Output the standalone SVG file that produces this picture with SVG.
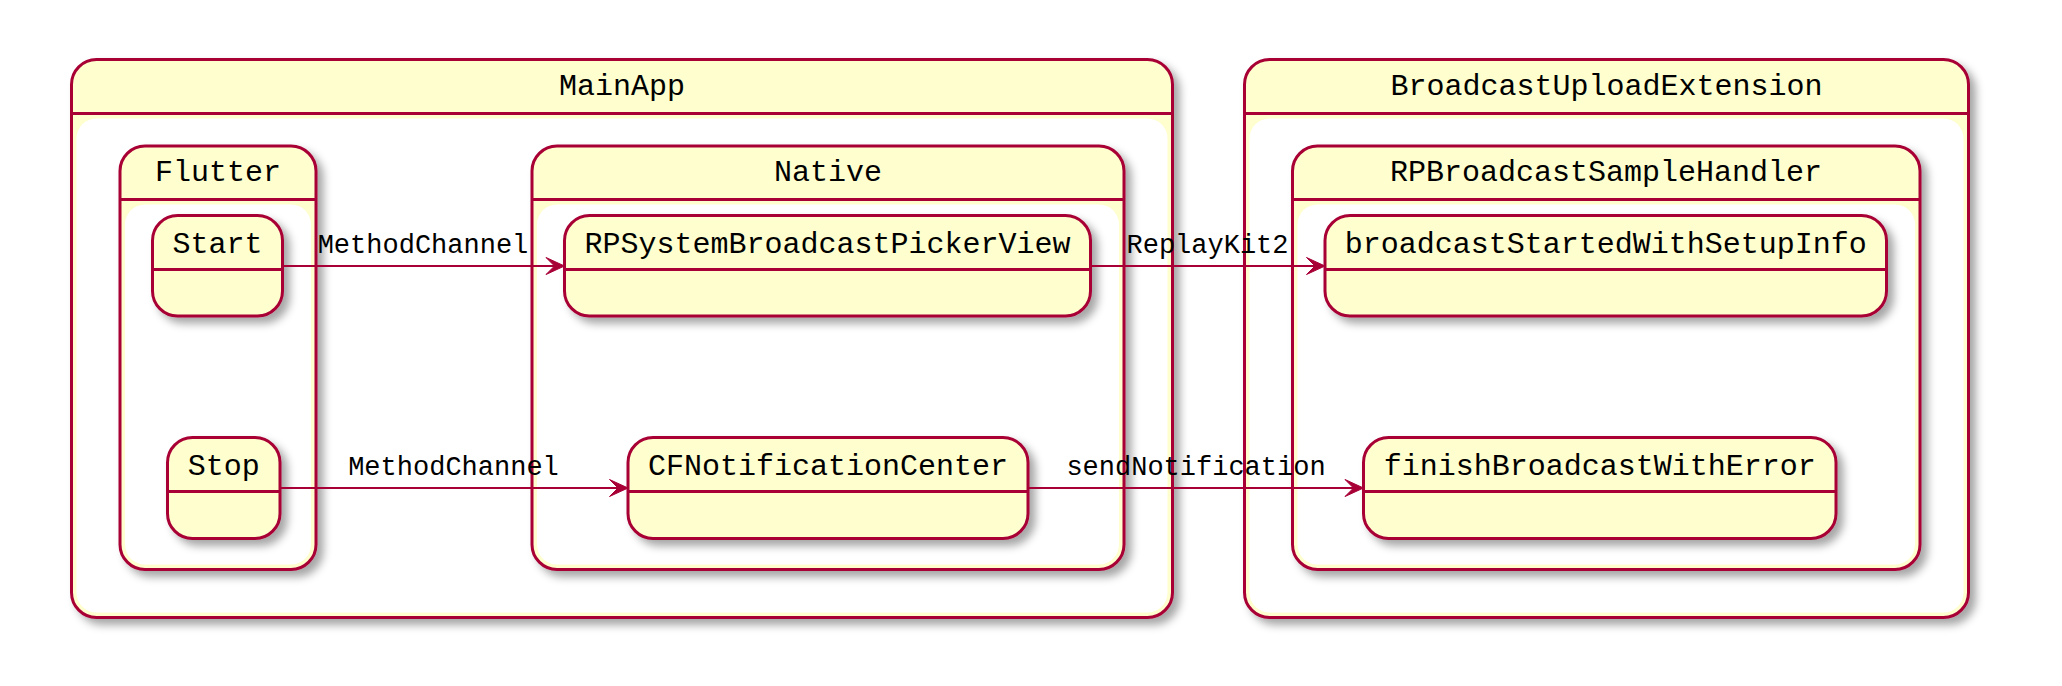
<svg xmlns="http://www.w3.org/2000/svg" width="2062" height="686" viewBox="0 0 2062 686">
  <defs>
    <filter id="sh" x="-10%" y="-10%" width="130%" height="130%">
      <feDropShadow dx="6" dy="6" stdDeviation="4" flood-color="#000000" flood-opacity="0.35"/>
    </filter>
  </defs>
  <style>
    .box{fill:#FEFECE;stroke:#A80036;stroke-width:3;filter:url(#sh)}
    .inner{fill:#FFFFFF;stroke:none}
    .div{stroke:#A80036;stroke-width:3;fill:none}
    .name{font-family:"Liberation Mono","DejaVu Sans Mono",monospace;font-size:30px;fill:#000;text-anchor:middle}
    .lbl{font-family:"Liberation Mono","DejaVu Sans Mono",monospace;font-size:27px;fill:#000;text-anchor:middle}
    .edge{stroke:#A80036;stroke-width:2;fill:none}
    .head{fill:#A80036;stroke:#A80036;stroke-width:1}
  </style>
  <rect width="2062" height="686" fill="#FFFFFF"/>

  <g id="MainApp">
    <rect class="box" x="71.5" y="59.5" width="1101" height="558" rx="25"/>
    <line class="div" x1="71.5" y1="113.5" x2="1172.5" y2="113.5"/>
    <rect class="inner" x="76.5" y="118.5" width="1091" height="494" rx="20"/>
    <text class="name" x="622" y="94.5">MainApp</text>
  </g>

  <g id="BroadcastUploadExtension">
    <rect class="box" x="1244.5" y="59.5" width="724" height="558" rx="25"/>
    <line class="div" x1="1244.5" y1="113.5" x2="1968.5" y2="113.5"/>
    <rect class="inner" x="1249.5" y="118.5" width="714" height="494" rx="20"/>
    <text class="name" x="1606.5" y="94.5">BroadcastUploadExtension</text>
  </g>

  <g id="Flutter">
    <rect class="box" x="120" y="146" width="196" height="423.5" rx="25"/>
    <line class="div" x1="120" y1="199.5" x2="316" y2="199.5"/>
    <rect class="inner" x="125" y="204.5" width="186" height="360" rx="20"/>
    <text class="name" x="218" y="181">Flutter</text>
  </g>

  <g id="Native">
    <rect class="box" x="532" y="146" width="592" height="423.5" rx="25"/>
    <line class="div" x1="532" y1="199.5" x2="1124" y2="199.5"/>
    <rect class="inner" x="537" y="204.5" width="582" height="360" rx="20"/>
    <text class="name" x="828" y="181">Native</text>
  </g>

  <g id="RPBroadcastSampleHandler">
    <rect class="box" x="1292.5" y="146" width="627.5" height="423.5" rx="25"/>
    <line class="div" x1="1292.5" y1="199.5" x2="1920" y2="199.5"/>
    <rect class="inner" x="1297.5" y="204.5" width="617.5" height="360" rx="20"/>
    <text class="name" x="1606" y="181">RPBroadcastSampleHandler</text>
  </g>

  <g id="Start">
    <rect class="box" x="152.5" y="215.5" width="130" height="100.5" rx="25"/>
    <line class="div" x1="152.5" y1="269.5" x2="282.5" y2="269.5"/>
    <text class="name" x="217.5" y="252.5">Start</text>
  </g>

  <g id="Stop">
    <rect class="box" x="167.5" y="437.5" width="112.5" height="101" rx="25"/>
    <line class="div" x1="167.5" y1="491.5" x2="280" y2="491.5"/>
    <text class="name" x="223.75" y="475">Stop</text>
  </g>

  <g id="RPSystemBroadcastPickerView">
    <rect class="box" x="564.5" y="215.5" width="526" height="100.5" rx="25"/>
    <line class="div" x1="564.5" y1="269.5" x2="1090.5" y2="269.5"/>
    <text class="name" x="827.5" y="252.5">RPSystemBroadcastPickerView</text>
  </g>

  <g id="CFNotificationCenter">
    <rect class="box" x="628" y="437.5" width="400" height="101" rx="25"/>
    <line class="div" x1="628" y1="491.5" x2="1028" y2="491.5"/>
    <text class="name" x="828" y="475">CFNotificationCenter</text>
  </g>

  <g id="broadcastStartedWithSetupInfo">
    <rect class="box" x="1325" y="215.5" width="561.5" height="100.5" rx="25"/>
    <line class="div" x1="1325" y1="269.5" x2="1886.5" y2="269.5"/>
    <text class="name" x="1605.75" y="252.5">broadcastStartedWithSetupInfo</text>
  </g>

  <g id="finishBroadcastWithError">
    <rect class="box" x="1363.5" y="437.5" width="472.5" height="101" rx="25"/>
    <line class="div" x1="1363.5" y1="491.5" x2="1836" y2="491.5"/>
    <text class="name" x="1599.75" y="475">finishBroadcastWithError</text>
  </g>

  <g id="connectors">
    <line class="edge" x1="282.5" y1="266" x2="562" y2="266"/>
    <polygon class="head" points="564.5,266 546,257.5 554.5,266 546,274.5"/>
    <text class="lbl" x="423" y="252.5">MethodChannel</text>

    <line class="edge" x1="280" y1="488" x2="626" y2="488"/>
    <polygon class="head" points="628,488 609.5,479.5 618,488 609.5,496.5"/>
    <text class="lbl" x="453.5" y="475">MethodChannel</text>

    <line class="edge" x1="1090.5" y1="266" x2="1323" y2="266"/>
    <polygon class="head" points="1325,266 1306.5,257.5 1315,266 1306.5,274.5"/>
    <text class="lbl" x="1207.5" y="252.5">ReplayKit2</text>

    <line class="edge" x1="1028" y1="488" x2="1361" y2="488"/>
    <polygon class="head" points="1363.5,488 1345,479.5 1353.5,488 1345,496.5"/>
    <text class="lbl" x="1196" y="475">sendNotification</text>
  </g>
</svg>
